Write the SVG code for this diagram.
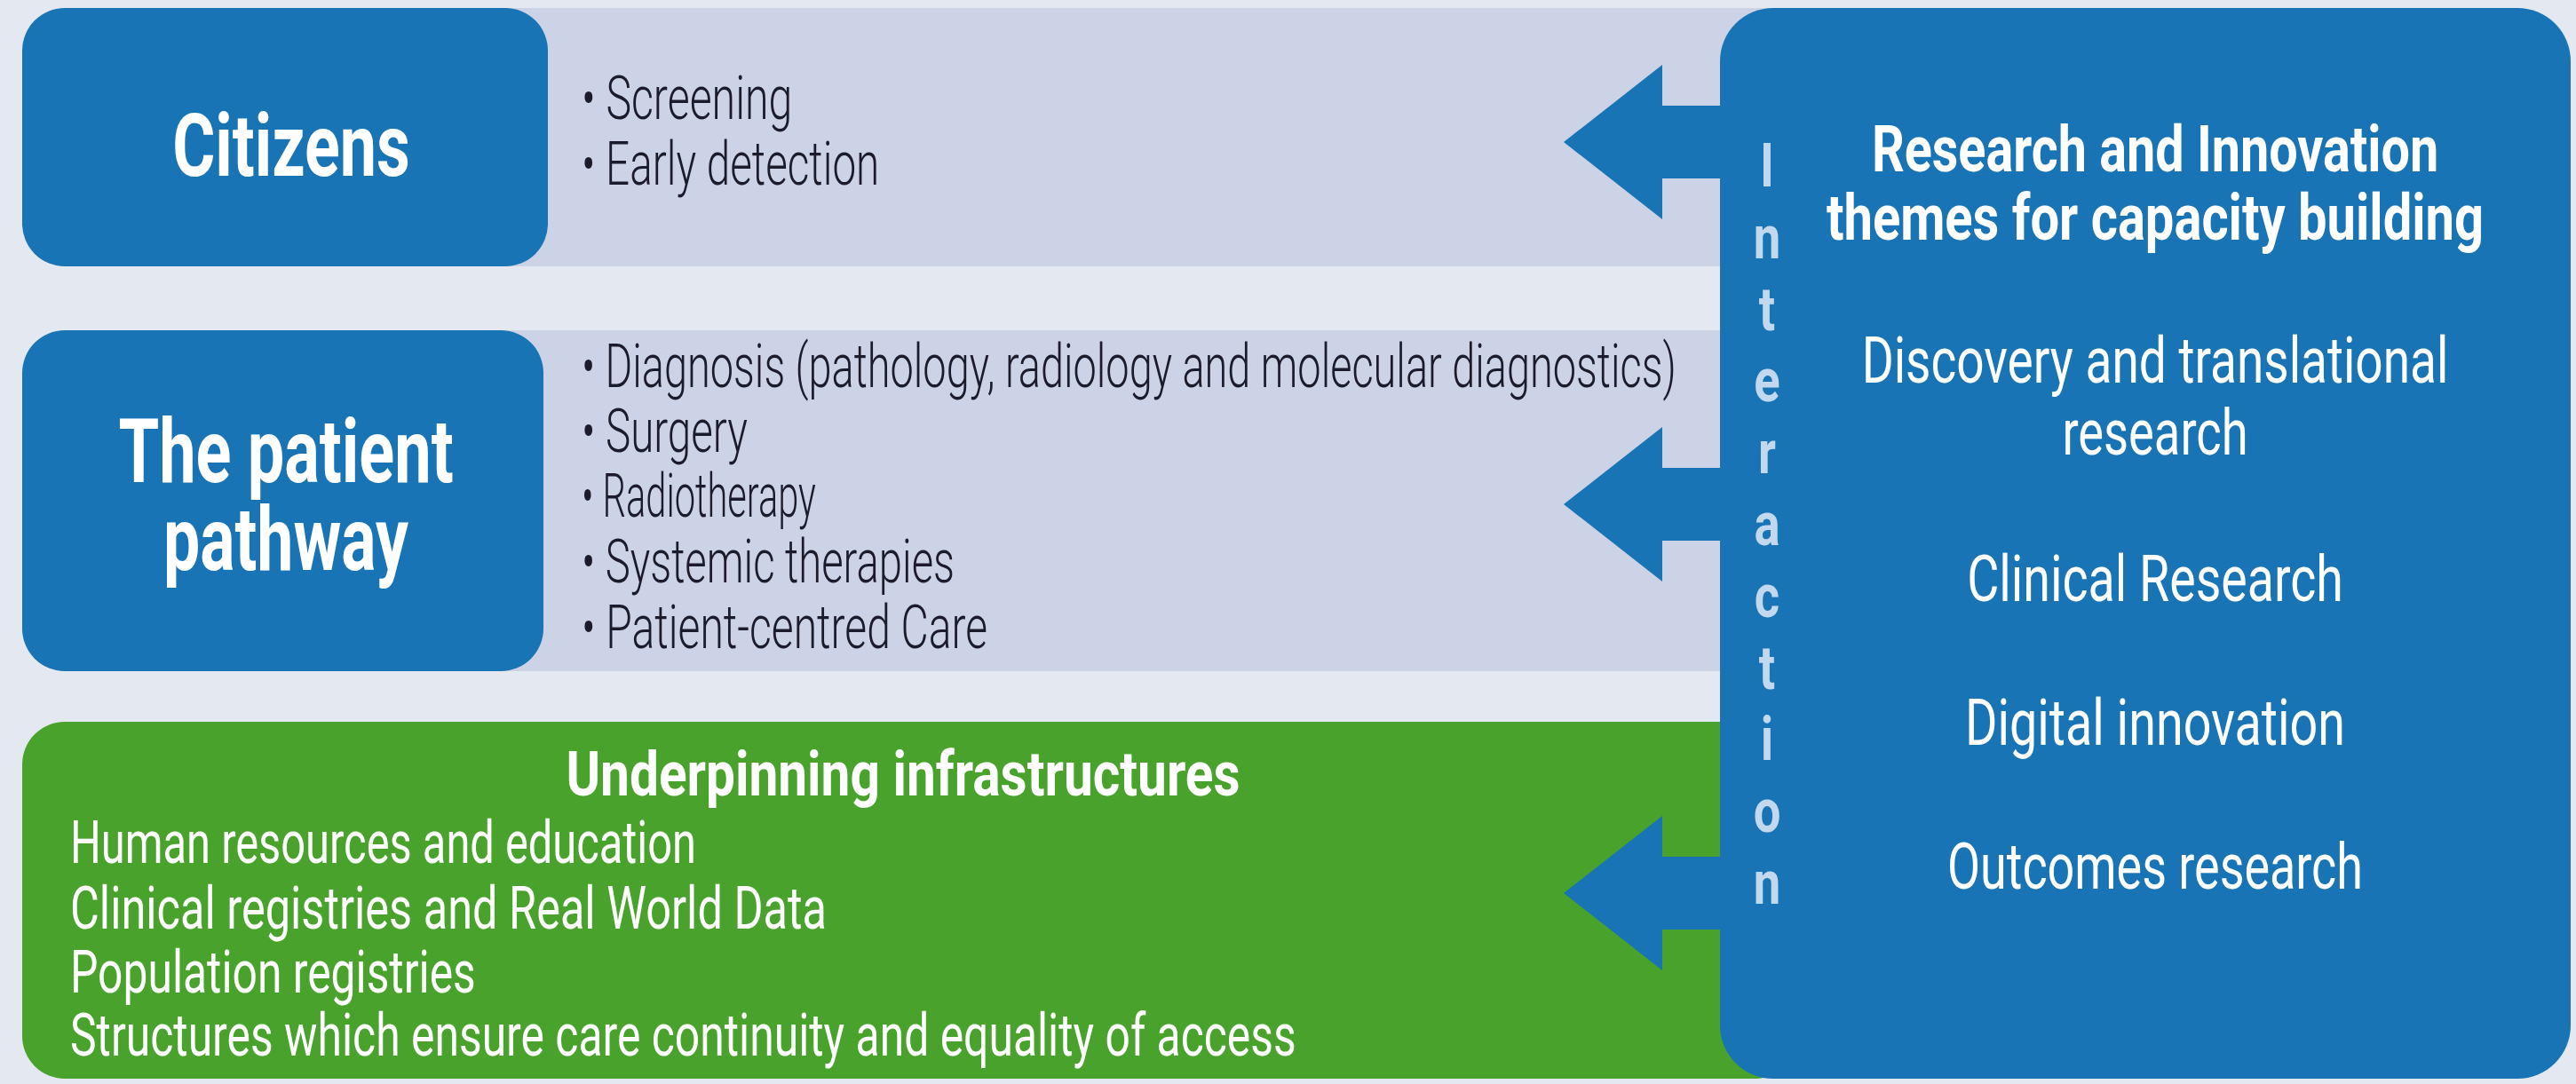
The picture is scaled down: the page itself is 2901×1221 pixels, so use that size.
<svg xmlns="http://www.w3.org/2000/svg" width="2901" height="1221" viewBox="0 0 2901 1221">
<style>
.bg{fill:#E4E8F1}
.band{fill:#CDD3E6}
.blue{fill:#1874B4}
.green{fill:#48A22C}
.title{font-family:Roboto,"Liberation Sans",sans-serif;font-weight:700;fill:#FFFFFF}
.bul{font-family:Roboto,"Liberation Sans",sans-serif;font-weight:300;font-size:68px;fill:#1B1B2B}
.wt{font-family:Roboto,"Liberation Sans",sans-serif;font-weight:400;fill:#FFFFFF}
.inter{font-family:Roboto,"Liberation Sans",sans-serif;font-weight:700;font-size:68px;fill:#C2D8EF}
.mid{text-anchor:middle}
</style>
<rect class="bg" x="0" y="0" width="2901" height="1221"/>
<g id="citizens">
<rect class="band" x="500" y="9" width="1500" height="291"/>
<rect class="blue" x="25" y="9" width="592" height="291" rx="48"/>
<text class="title mid" transform="translate(328,198) scale(0.75,1)" font-size="98" textLength="357" lengthAdjust="spacingAndGlyphs">Citizens</text>
<text class="bul" transform="translate(655,134) scale(0.7,1)" textLength="339" lengthAdjust="spacingAndGlyphs">• Screening</text>
<text class="bul" transform="translate(655,208) scale(0.7,1)" textLength="479" lengthAdjust="spacingAndGlyphs">• Early detection</text>
</g>
<g id="patient">
<rect class="band" x="500" y="372" width="1500" height="384"/>
<rect class="blue" x="25" y="372" width="587" height="384" rx="48"/>
<text class="title mid" transform="translate(322,543) scale(0.75,1)" font-size="100" textLength="503" lengthAdjust="spacingAndGlyphs">The patient</text>
<text class="title mid" transform="translate(322,642) scale(0.75,1)" font-size="100" textLength="368" lengthAdjust="spacingAndGlyphs">pathway</text>
<text class="bul" transform="translate(655,436) scale(0.7,1)" textLength="1761" lengthAdjust="spacingAndGlyphs">• Diagnosis (pathology, radiology and molecular diagnostics)</text>
<text class="bul" transform="translate(655,509) scale(0.7,1)" textLength="267" lengthAdjust="spacingAndGlyphs">• Surgery</text>
<text class="bul" transform="translate(655,582) scale(0.7,1)" textLength="377" lengthAdjust="spacingAndGlyphs">• Radiotherapy</text>
<text class="bul" transform="translate(655,656) scale(0.7,1)" textLength="600" lengthAdjust="spacingAndGlyphs">• Systemic therapies</text>
<text class="bul" transform="translate(655,730) scale(0.7,1)" textLength="653" lengthAdjust="spacingAndGlyphs">• Patient-centred Care</text>
</g>
<g id="infrastructures">
<rect class="green" x="25" y="813" width="2000" height="402" rx="48"/>
<text class="title mid" transform="translate(1017,896) scale(0.75,1)" font-size="70" textLength="1012" lengthAdjust="spacingAndGlyphs">Underpinning infrastructures</text>
<text class="wt" transform="translate(79,972) scale(0.75,1)" font-size="66" textLength="940" lengthAdjust="spacingAndGlyphs">Human resources and education</text>
<text class="wt" transform="translate(79,1046) scale(0.75,1)" font-size="66" textLength="1136" lengthAdjust="spacingAndGlyphs">Clinical registries and Real World Data</text>
<text class="wt" transform="translate(79,1118) scale(0.75,1)" font-size="66" textLength="609" lengthAdjust="spacingAndGlyphs">Population registries</text>
<text class="wt" transform="translate(79,1189) scale(0.75,1)" font-size="66" textLength="1841" lengthAdjust="spacingAndGlyphs">Structures which ensure care continuity and equality of access</text>
</g>
<g id="connectors">
<path class="blue" d="M1761,160 L1872,73 L1872,119 L1950,119 L1950,201 L1872,201 L1872,247 Z"/>
<path class="blue" d="M1761,568 L1872,481 L1872,527 L1950,527 L1950,609 L1872,609 L1872,655 Z"/>
<path class="blue" d="M1761,1006 L1872,919 L1872,965 L1950,965 L1950,1047 L1872,1047 L1872,1093 Z"/>
</g>
<g id="research">
<rect class="blue" x="1937" y="9" width="958" height="1206" rx="60"/>
<g class="inter mid">
<text transform="translate(1990,210) scale(0.8,1)">I</text>
<text transform="translate(1990,291) scale(0.8,1)">n</text>
<text transform="translate(1990,372) scale(0.8,1)">t</text>
<text transform="translate(1990,452) scale(0.8,1)">e</text>
<text transform="translate(1990,533) scale(0.8,1)">r</text>
<text transform="translate(1990,614) scale(0.8,1)">a</text>
<text transform="translate(1990,695) scale(0.8,1)">c</text>
<text transform="translate(1990,776) scale(0.8,1)">t</text>
<text transform="translate(1990,856) scale(0.8,1)">i</text>
<text transform="translate(1990,937) scale(0.8,1)">o</text>
<text transform="translate(1990,1018) scale(0.8,1)">n</text>
</g>
<text class="title mid" transform="translate(2427,193) scale(0.75,1)" font-size="72" textLength="851" lengthAdjust="spacingAndGlyphs">Research and Innovation</text>
<text class="title mid" transform="translate(2427,270) scale(0.75,1)" font-size="72" textLength="987" lengthAdjust="spacingAndGlyphs">themes for capacity building</text>
<text class="wt mid" transform="translate(2427,431) scale(0.75,1)" font-size="72" textLength="881" lengthAdjust="spacingAndGlyphs">Discovery and translational</text>
<text class="wt mid" transform="translate(2427,512) scale(0.75,1)" font-size="72" textLength="279" lengthAdjust="spacingAndGlyphs">research</text>
<text class="wt mid" transform="translate(2427,677) scale(0.75,1)" font-size="72" textLength="565" lengthAdjust="spacingAndGlyphs">Clinical Research</text>
<text class="wt mid" transform="translate(2427,839) scale(0.75,1)" font-size="72" textLength="571" lengthAdjust="spacingAndGlyphs">Digital innovation</text>
<text class="wt mid" transform="translate(2427,1001) scale(0.75,1)" font-size="72" textLength="624" lengthAdjust="spacingAndGlyphs">Outcomes research</text>
</g>
</svg>
